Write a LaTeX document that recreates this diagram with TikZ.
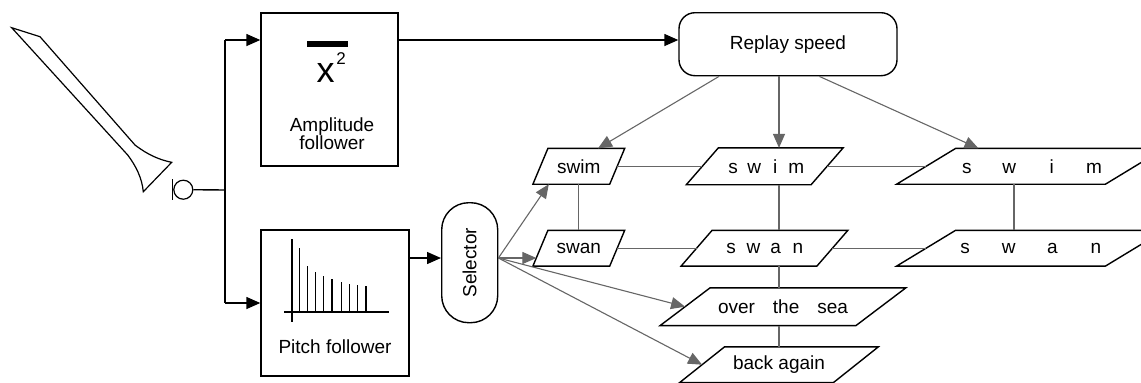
\documentclass[tikz,border=0pt]{standalone}
\usepackage{fontspec}
\setmainfont{Liberation Sans}
\usetikzlibrary{arrows.meta}

\newcommand{\spelled}[5]{\makebox[0pt]{#2}\hspace{#1}\makebox[0pt]{#3}\hspace{#1}\makebox[0pt]{#4}\hspace{#1}\makebox[0pt]{#5}}

\begin{document}
\begin{tikzpicture}[x=0.5pt,y=-0.5pt,
  font=\fontsize{9.5}{9}\selectfont,
  box/.style={rectangle,draw,line width=0.7pt},
  wordbox/.style={rectangle,inner sep=1pt},
  flow/.style={line width=0.7pt,-{Triangle[length=7pt,width=6pt]}},
  link/.style={draw=black!60,line width=0.55pt},
  pick/.style={link,-{Triangle[length=7pt,width=6pt]}}]
\useasboundingbox (0,0) rectangle (1141,382);

% horn and microphone
\draw[line width=0.6pt] (11.7,27.7) -- (40,36.7) -- (135,145)
  .. controls (148,155) and (160,160) .. (171.7,162.3) -- (143.3,191.7)
  .. controls (142,178) and (136,166) .. (127.7,155) -- cycle;
\node[circle,draw,line width=0.6pt,minimum size=9.5pt,inner sep=0pt] (mic) at (183.3,189.7) {};
\draw[line width=0.6pt] (172.7,179) -- (172.7,200);

% followers
\node[box,minimum width=68.5pt,minimum height=76.5pt] (amp) at (329.5,89.5) {};
\node[box,minimum width=74pt,minimum height=73pt] (pitch) at (335,303) {};
\node[box,rounded corners=8pt,minimum width=109pt,minimum height=31.5pt] (rep) at (788,44.2) {Replay speed};
\node[box,rounded corners=13.5pt,minimum width=28pt,minimum height=60pt,inner sep=0pt] (sel) at (469.7,262.7) {\rotatebox{90}{Selector}};

\node[font=\fontsize{18}{18}\selectfont,inner sep=0pt] (sqx) at (325.5,72.5) {x};
\node[font=\fontsize{8.5}{8.5}\selectfont,inner sep=0pt] (sqtwo) at (341,59) {2};
\draw[line width=3pt] (307,44) -- (348,44);
\node[align=center,inner sep=0pt] (amptext) at (332,134) {Amplitude\\follower};

\draw[line width=0.6pt] (284,312) -- (389,312);
\draw[line width=0.6pt] (292,239) -- (292,322);
\foreach \x/\top in {299.7/248.3,307.7/265.7,315.7/271.7,323.7/276,332/279.3,341.3/282.3,349.7/284,357.7/285,366/285.7}
  \draw[line width=0.6pt] (\x,312) -- (\x,\top);
\node (pitchtext) at (335,347) {Pitch follower};

% words
\node[wordbox,minimum width=38pt,minimum height=17.5pt] (swimA) at (578.8,166.3) {swim};
\node[wordbox,minimum width=38pt,minimum height=17.5pt] (swanA) at (578.8,248.2) {swan};
\node[wordbox,minimum width=62pt,minimum height=18pt] (swimB) at (764.7,166.3) {\spelled{10.5pt}{s}{w}{i}{m}};
\node[wordbox,minimum width=67.5pt,minimum height=17.5pt] (swanB) at (764.5,248.2) {\spelled{11.1pt}{s}{w}{a}{n}};
\node[wordbox,minimum width=104pt,minimum height=17.5pt] (swimC) at (1030.5,166.3) {\spelled{21.2pt}{s}{w}{i}{m}\hspace{9.5pt}};
\node[wordbox,minimum width=104pt,minimum height=17.5pt] (swanC) at (1030.5,248.2) {\spelled{21.8pt}{s}{w}{a}{n}\hspace{9.5pt}};
\node[wordbox,minimum width=97.5pt,minimum height=18.5pt] (sea) at (783,306.7) {over\hspace{9pt}the\hspace{9pt}sea};
\node[wordbox,minimum width=76.5pt,minimum height=17.5pt] (back) at (779,364.7) {back again};

% slanted outlines
\foreach \n/\e in {swimA/7.5pt,swanA/7.5pt,swimB/16pt,swanB/15.5pt,swimC/29.5pt,swanC/29.5pt,sea/25pt,back/22.5pt}
  \draw[line width=0.7pt] ([xshift=-\e/2]\n.south west) -- ([xshift=\e/2]\n.north west)
    -- ([xshift=\e/2]\n.north east) -- ([xshift=-\e/2]\n.south east) -- cycle;

% connectors
\coordinate (ampin) at (225,40);
\coordinate (fork) at (225,190);
\coordinate (pitchin) at (225,303);
\coordinate (feed) at (441,258);
\coordinate (col) at (779,0);
\coordinate (colC) at (1014,0);

\draw[line width=0.7pt] (mic.east) -- (fork);
\draw[line width=0.7pt] (ampin) -- (pitchin);
\draw[flow] (ampin) -- (amp.west |- ampin);
\draw[flow] (pitchin) -- (pitch.west);
\draw[flow] (amp.east |- ampin) -- (rep.west |- ampin);
\draw[flow] (pitch.east |- feed) -- (sel.west |- feed);

\draw[pick] ([xshift=-34.5pt]rep.south) -- ([xshift=9.6pt]swimA.north);
\draw[pick] (rep.south -| col) -- (swimB.north -| col);
\draw[pick] ([xshift=15.7pt]rep.south) -- ([xshift=-26pt]swimC.north);

\draw[pick] (sel.east |- feed) -- ([xshift=-15pt]swimA.south);
\draw[pick,shorten >=2pt] (sel.east |- feed) -- (swanA.west |- feed);
\draw[pick] (sel.east |- feed) -- (sea.west);
\draw[pick] (sel.east |- feed) -- (back.west);

\draw[link] (swimA) -- (swimB);
\draw[link] (swimB) -- (swimC);
\draw[link] (swanA) -- (swanB);
\draw[link] (swanB) -- (swanC);
\draw[link] (swimA) -- (swanA);
\draw[link] (swimB.south -| col) -- (swanB.north -| col);
\draw[link] (swanB.south -| col) -- (sea.north -| col);
\draw[link] (sea.south -| col) -- (back.north -| col);
\draw[link] (swimC.south -| colC) -- (swanC.north -| colC);
\end{tikzpicture}
\end{document}
